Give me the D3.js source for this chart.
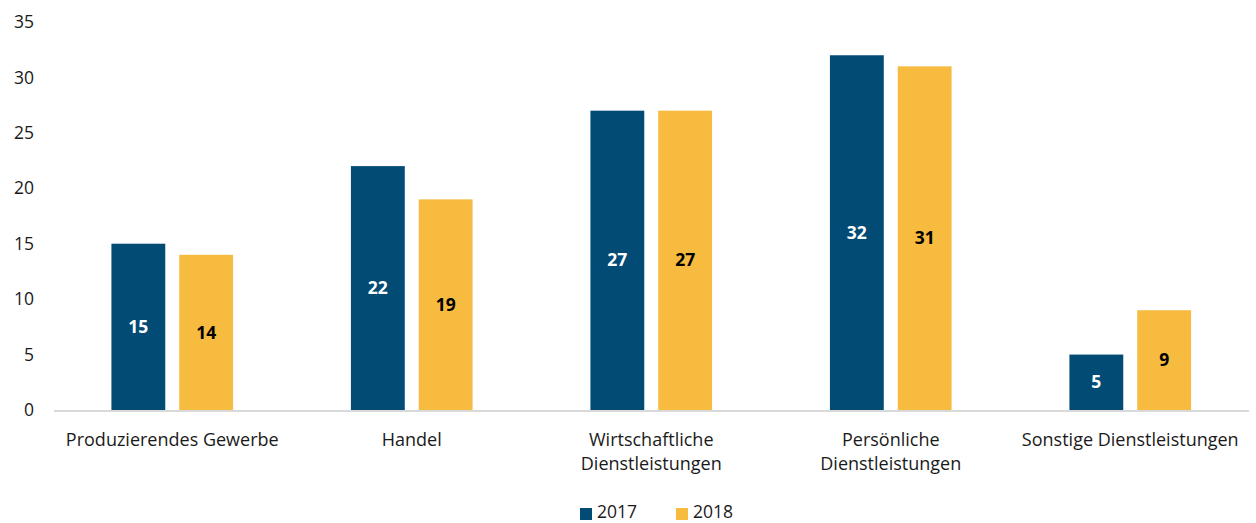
<!DOCTYPE html>
<html><head><meta charset="utf-8">
<script src="https://cdn.jsdelivr.net/npm/d3@7"></script>
<style>body{margin:0;background:#fff;} text{font-family:"Open Sans","Noto Sans",sans-serif;}</style>
</head><body>
<svg id="c" width="1256" height="523"></svg>
<script>
const categories = [["Produzierendes Gewerbe"],["Handel"],["Wirtschaftliche","Dienstleistungen"],["Persönliche","Dienstleistungen"],["Sonstige Dienstleistungen"]];
const years = ["2017","2018"];
const values2017 = [15,22,27,32,5];
const values2018 = [14,19,27,31,9];
const yTicks = [0,5,10,15,20,25,30,35];
const colors = {"2017":"#014b75","2018":"#f6bb3f"};
const textColors = {"2017":"#ffffff","2018":"#000000"};

const svg = d3.select("#c");
const keys = categories.map(c => c.join(" "));
const x0 = d3.scaleBand().domain(keys).range([52.5, 1250]).padding(0);
const bw = x0.bandwidth();
const x1 = d3.scaleBand().domain(years).range([bw*0.246, bw*0.754]).paddingInner(0.206).paddingOuter(0);
const y = d3.scaleLinear().domain([0,35]).range([410, 22]);

// y axis labels
const ya = svg.append("g").attr("transform","translate(34,0)")
  .call(d3.axisLeft(y).tickValues(yTicks).tickSize(0).tickPadding(0));
ya.select(".domain").remove();
ya.selectAll("text").attr("font-size",17.5).attr("fill","#1a1a1a").style("font-family","'Open Sans','Noto Sans',sans-serif");

const data = keys.map((k,i)=>({k, vals: [{year:"2017", v: values2017[i]},{year:"2018", v: values2018[i]}]}));
const g = svg.append("g").selectAll("g").data(data).join("g").attr("transform", d=>`translate(${x0(d.k)},0)`);
g.selectAll("rect").data(d=>d.vals).join("rect")
  .attr("x", d=>x1(d.year)).attr("width", x1.bandwidth())
  .attr("y", d=>y(d.v)).attr("height", d=>y(0)-y(d.v))
  .attr("fill", d=>colors[d.year]);
g.selectAll("text.val").data(d=>d.vals).join("text").attr("class","val")
  .attr("x", d=>x1(d.year)+x1.bandwidth()/2)
  .attr("y", d=>(y(d.v)+y(0))/2).attr("dy","0.35em")
  .attr("text-anchor","middle").attr("font-size",17.5).attr("font-weight","bold")
  .attr("fill", d=>textColors[d.year]).text(d=>d.v);

// x axis line
svg.append("line").attr("x1",54).attr("x2",1249).attr("y1",y(0)+1).attr("y2",y(0)+1)
  .attr("stroke","#d9d9d9").attr("stroke-width",2);

// category labels
categories.forEach((c,i)=>{
  const t = svg.append("text").attr("x", x0(keys[i])+bw/2).attr("y",446)
    .attr("text-anchor","middle").attr("font-size",18).attr("fill","#1a1a1a");
  c.forEach((line,j)=> t.append("tspan").attr("x", x0(keys[i])+bw/2).attr("dy", j===0?0:24).text(line));
});

// legend
const lg = svg.append("g");
const legX = [580, 676];
years.forEach((yr,i)=>{
  lg.append("rect").attr("x",legX[i]).attr("y",508).attr("width",12).attr("height",12).attr("fill",colors[yr]);
  lg.append("text").attr("x",legX[i]+17).attr("y",518).attr("font-size",17.5).attr("fill","#1a1a1a").text(yr);
});
</script>
</body></html>
